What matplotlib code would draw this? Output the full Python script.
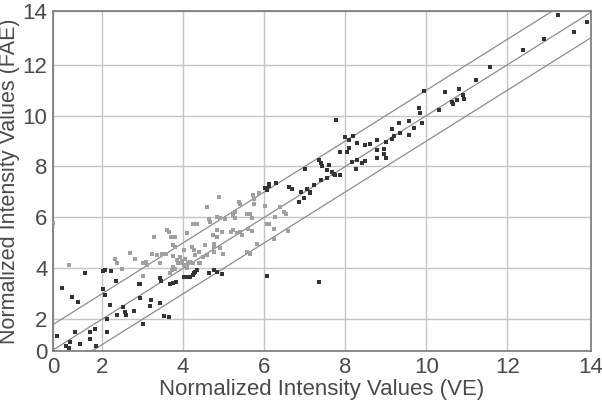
import numpy as np
import matplotlib.pyplot as plt

# scatter values (VE on x, FAE on y)
dark_ve = [0.90, 1.10, 1.18, 1.20, 1.33, 1.46, 1.71, 1.71, 1.82, 1.84, 2.13, 2.11, 2.38, 2.52,
           2.56, 2.59, 2.79, 2.19, 2.07, 2.02, 1.02, 1.27, 1.41, 1.57, 2.02, 2.07, 2.23, 2.35,
           2.90, 2.93, 2.93, 3.01, 3.18, 3.20, 3.42, 3.52, 3.65, 3.44, 3.46, 3.68, 3.75, 3.83,
           4.01, 4.09, 4.17, 4.24, 4.27, 4.30, 4.34, 4.65, 4.75, 4.83, 4.96, 6.08, 7.34,
           6.02, 6.11, 6.13, 6.07, 6.30, 6.60, 6.68, 7.00, 7.22, 7.05, 6.91, 7.14, 6.97, 6.87,
           7.12, 7.34, 7.40, 7.42, 7.59, 7.55, 7.67, 7.71, 7.75, 7.86, 7.41, 7.55, 7.78, 7.98,
           8.08, 8.19, 8.30, 8.49, 8.62, 7.86, 8.04, 8.08, 8.17, 8.29, 8.41, 8.49, 8.27, 8.77,
           9.01, 8.78, 8.95, 8.96, 9.01, 8.78, 9.32, 9.14, 9.34, 9.19, 9.15, 9.56, 9.58, 9.69,
           9.89, 9.81, 9.85, 9.93, 10.30, 10.63, 10.66, 10.76, 10.47, 10.80, 10.91, 10.92,
           11.23, 11.58, 12.39, 12.91, 13.24, 13.65, 13.97]
dark_fae = [1.35, 0.94, 0.88, 1.11, 1.48, 1.02, 1.50, 1.24, 1.60, 0.94, 1.48, 1.99, 2.16, 2.46,
            2.29, 2.16, 2.32, 2.55, 2.94, 3.18, 3.21, 2.88, 2.66, 3.82, 3.90, 3.95, 3.90, 3.49,
            3.38, 3.40, 2.82, 1.83, 2.51, 2.75, 2.64, 2.13, 2.07, 3.60, 3.51, 3.40, 3.44, 3.47,
            3.66, 3.64, 3.66, 3.73, 3.80, 3.86, 3.93, 3.80, 3.93, 3.86, 3.77, 3.70, 3.47,
            7.16, 7.33, 7.22, 7.09, 7.35, 7.20, 7.13, 7.92, 7.26, 7.13, 7.00, 7.00, 6.78, 6.61,
            6.94, 8.25, 8.12, 8.01, 8.05, 7.85, 7.79, 7.72, 7.66, 7.66, 7.46, 7.53, 9.82, 9.16,
            9.06, 9.20, 8.94, 8.83, 8.90, 8.57, 8.55, 8.73, 8.18, 8.27, 8.14, 8.22, 7.92, 9.06,
            8.96, 8.64, 8.70, 8.48, 8.35, 8.35, 9.69, 9.49, 9.32, 9.19, 9.10, 9.23, 9.78, 9.53,
            9.69, 10.30, 10.12, 10.97, 10.21, 10.54, 10.47, 10.63, 10.93, 11.04, 10.82, 10.67,
            11.39, 11.91, 12.59, 13.02, 13.94, 13.28, 13.68]

light_ve = [0.79, 1.19, 2.31, 2.37, 2.48, 2.70, 2.81, 3.00, 3.09, 3.12, 3.23, 3.29, 3.35, 3.44,
            3.47, 3.57, 3.60, 3.64, 3.70, 3.75, 3.80, 3.67, 3.01, 3.76, 3.80, 3.72, 3.75, 3.80,
            3.84, 3.88, 3.93, 4.01, 4.13, 4.17, 4.25, 4.38, 4.42, 3.93, 4.01, 4.21, 4.27, 4.30,
            4.40, 4.58, 4.48, 4.54, 4.75, 4.77, 4.91, 4.98, 4.77, 3.98, 4.05, 4.10,
            4.09, 4.24, 4.35, 4.67, 4.83, 4.96, 4.73, 4.83, 5.19, 5.24, 5.33, 5.41, 5.45, 5.70,
            5.57, 5.65, 5.82, 6.11, 4.60, 4.89, 5.39, 5.41, 5.27, 5.72, 5.74, 5.74, 5.88, 6.02,
            5.65, 4.65, 4.83, 4.91, 5.04, 5.70, 5.24, 5.28, 5.57, 6.27, 6.48, 6.54, 6.40, 6.58,
            6.23, 6.08, 6.25, 5.61]
light_fae = [5.78, 4.12, 4.35, 4.21, 3.99, 4.61, 4.35, 4.21, 4.24, 4.13, 4.55, 5.23, 4.52, 4.19,
             4.58, 4.55, 5.52, 5.43, 5.23, 4.48, 5.21, 3.82, 3.69, 4.06, 3.99, 3.93, 4.91, 4.84,
             4.32, 4.19, 4.21, 4.12, 4.19, 4.25, 4.19, 4.19, 4.21, 4.45, 4.71, 4.82, 4.71, 4.52,
             4.65, 4.52, 4.45, 4.91, 4.97, 4.84, 4.78, 4.55, 4.65, 4.30, 4.35, 4.02,
             5.37, 5.73, 5.73, 5.82, 5.52, 5.43, 5.30, 5.23, 5.43, 5.52, 5.37, 5.43, 5.30, 5.46,
             4.65, 4.58, 4.97, 5.73, 6.41, 6.80, 6.61, 6.52, 6.22, 6.87, 6.74, 6.54, 6.94, 6.44,
             6.12, 5.92, 6.02, 5.96, 5.92, 5.96, 6.09, 5.96, 6.15, 6.00, 6.22, 6.15, 6.39, 5.47,
             5.17, 5.76, 5.56, 5.56]

band_offsets = [-1, 0, 1]
tick_vals = [2, 4, 6, 8, 10, 12]
x_min, x_max = 0.79, 14.06
y_min, y_max = 0.75, 14.11

TEXT = '#4a4a4a'
plt.rcParams['font.family'] = ['Liberation Sans', 'DejaVu Sans']

fig = plt.figure(figsize=(6.02, 4.04), dpi=100)
ax = fig.add_axes([53 / 602, 53 / 404, 538 / 602, 340 / 404])

line_x = np.array([0, 15])
for off in band_offsets:
    ax.plot(line_x, line_x + off, color='#8c8c8c', lw=0.9, zorder=2)

ax.scatter(light_ve, light_fae, marker='s', s=10, color='#a0a0a0', linewidths=0, zorder=3)
ax.scatter(dark_ve, dark_fae, marker='s', s=10, color='#333333', linewidths=0, zorder=4)

ax.set_xlim(x_min, x_max)
ax.set_ylim(y_min, y_max)
ax.set_xticks([x_min] + tick_vals + [x_max])
ax.set_xticklabels(['0'] + [str(v) for v in tick_vals] + ['14'])
ax.set_yticks([y_min] + tick_vals + [y_max])
ax.set_yticklabels(['0'] + [str(v) for v in tick_vals] + ['14'])
ax.tick_params(length=0, labelsize=16, colors=TEXT, pad=4)
ax.grid(True, color='#c4c4c4', lw=1.0, zorder=0)
ax.set_axisbelow(True)
for sp in ax.spines.values():
    sp.set_color('#777777')
    sp.set_linewidth(1.2)

ax.set_xlabel('Normalized Intensity Values (VE)', fontsize=16, color=TEXT, labelpad=1)
ax.set_ylabel('Normalized Intensity Values (FAE)', fontsize=15.5, color=TEXT, labelpad=1.5)

fig.savefig('out.png', dpi=100)
